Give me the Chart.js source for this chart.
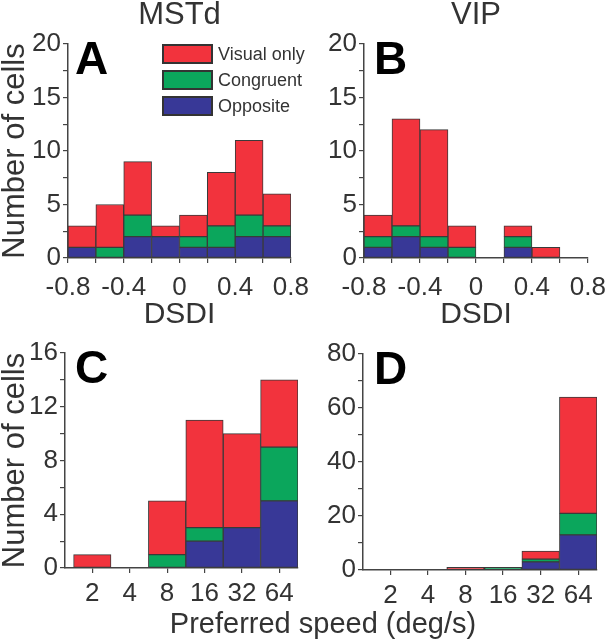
<!DOCTYPE html>
<html>
<head>
<meta charset="utf-8">
<script src="https://cdn.jsdelivr.net/npm/chart.js@4.4.0/dist/chart.umd.min.js"></script>
<style>
  body { margin: 0; background: #fff; }
  #wrap { position: relative; width: 612px; height: 639px; overflow: hidden; }
  canvas { position: absolute; }
  #speedLabel {
    position: absolute; left: 323px; top: 609px; transform: translateX(-50%);
    font-family: 'Liberation Sans', Arial, sans-serif; font-size: 29px; line-height: 29px;
    color: #333; white-space: nowrap;
  }
</style>
</head>
<body>
<div id="wrap">
  <canvas id="chartA" width="318" height="330" style="left:0;top:0"></canvas>
  <canvas id="chartB" width="315" height="330" style="left:300px;top:0"></canvas>
  <canvas id="chartC" width="318" height="319" style="left:0;top:320px"></canvas>
  <canvas id="chartD" width="317" height="319" style="left:300px;top:320px"></canvas>
  <div id="speedLabel">Preferred speed (deg/s)</div>
</div>
<script>
// DSDI bins (centres of 0.2 wide bins)
const dsdiBins = [-0.7, -0.5, -0.3, -0.1, 0.1, 0.3, 0.5, 0.7];
// preferred speed bins (deg/s)
const speeds = [2, 4, 8, 16, 32, 64];

// A: MSTd, DSDI
const mstdDsdiOpposite  = [1, 0, 2, 2, 1, 1, 2, 2];
const mstdDsdiCongruent = [0, 1, 2, 0, 1, 2, 2, 1];
const mstdDsdiVisual    = [2, 4, 5, 1, 2, 5, 7, 3];
// B: VIP, DSDI
const vipDsdiOpposite  = [1, 2, 1, 0, 0, 1, 0, 0];
const vipDsdiCongruent = [1, 1, 1, 1, 0, 1, 0, 0];
const vipDsdiVisual    = [2, 10, 10, 2, 0, 1, 1, 0];
// C: MSTd, preferred speed
const mstdSpeedOpposite  = [0, 0, 0, 2, 3, 5];
const mstdSpeedCongruent = [0, 0, 1, 1, 0, 4];
const mstdSpeedVisual    = [1, 0, 4, 8, 7, 5];
// D: VIP, preferred speed
const vipSpeedOpposite  = [0, 0, 0, 0, 3, 13];
const vipSpeedCongruent = [0, 0, 0, 1, 1, 8];
const vipSpeedVisual    = [0, 0, 1, 0, 3, 43];

const seriesNames = ['Opposite', 'Congruent', 'Visual only'];
const seriesColors = ['#383897', '#0ba65c', '#f2333d'];

Chart.defaults.font.family = "'Liberation Sans', Arial, sans-serif";
Chart.defaults.color = '#333';
Chart.defaults.animation = false;

const AXIS = '#444';

// big bold panel letter in the top left corner of the plot
const panelLetter = {
    id: 'panelLetter',
    afterDraw(chart, args, opts) {
        const { ctx, chartArea } = chart;
        ctx.save();
        ctx.font = "bold 46px 'Liberation Sans', Arial, sans-serif";
        ctx.fillStyle = '#000';
        ctx.textBaseline = 'alphabetic';
        ctx.fillText(opts.text, chartArea.left + opts.dx, chartArea.top + 30);
        ctx.restore();
    }
};

// legend with outlined boxes, drawn inside the plot of panel A
const boxLegend = {
    id: 'boxLegend',
    afterDraw(chart, args, opts) {
        if (!opts.show) return;
        const { ctx, chartArea } = chart;
        const sets = chart.data.datasets.slice().reverse();
        ctx.save();
        ctx.font = "18px 'Liberation Sans', Arial, sans-serif";
        ctx.textBaseline = 'middle';
        sets.forEach((ds, i) => {
            const x = chartArea.left + 95;
            const y = chartArea.top + 1 + i * 26;
            ctx.fillStyle = ds.backgroundColor;
            ctx.fillRect(x, y, 49, 18);
            ctx.strokeStyle = '#333';
            ctx.lineWidth = 2;
            ctx.strokeRect(x, y, 49, 18);
            ctx.fillStyle = '#333';
            ctx.fillText(ds.label, x + 55, y + 10);
        });
        ctx.restore();
    }
};

function makeDatasets(xs, lists) {
    return lists.map((vals, k) => ({
        label: seriesNames[k],
        data: xs.map((x, i) => ({ x: x, y: vals[i] })),
        backgroundColor: seriesColors[k],
        borderColor: '#3a3a3a',
        borderWidth: 1,
        borderSkipped: false,
        barPercentage: 1,
        categoryPercentage: 1
    }));
}

function yScale(max, step, every, width, title) {
    return {
        stacked: true,
        min: 0, max: max,
        afterFit: s => { s.width = width; },
        border: { color: AXIS, width: 1.5 },
        grid: { drawOnChartArea: false, tickLength: 5, color: AXIS, lineWidth: 1.2 },
        ticks: {
            stepSize: step, autoSkip: false, padding: 2,
            font: { size: 26 },
            callback: v => (v % every === 0 ? v : '')
        },
        title: {
            display: !!title, text: title,
            font: { size: 31, lineHeight: 1 }, padding: 0
        }
    };
}

function panel(id, cfg) {
    const xs = cfg.xs;
    return new Chart(document.getElementById(id), {
        type: 'bar',
        data: { datasets: makeDatasets(xs, cfg.series) },
        options: {
            responsive: false,
            layout: { padding: cfg.padding },
            scales: {
                x: cfg.x,
                y: cfg.y
            },
            plugins: {
                legend: { display: false },
                tooltip: { enabled: false },
                title: cfg.title ? {
                    display: true, text: cfg.title, fullSize: false,
                    font: { size: 31, weight: 'normal', lineHeight: 1 },
                    color: '#333',
                    padding: { top: 0, bottom: 13 }
                } : { display: false },
                panelLetter: { text: cfg.letter, dx: cfg.dx },
                boxLegend: { show: !!cfg.legend }
            }
        },
        plugins: [panelLetter, boxLegend]
    });
}

function dsdiX(height) {
    return {
        type: 'linear', stacked: true, offset: false,
        min: -0.8, max: 0.8,
        afterFit: s => { s.height = height; },
        border: { color: AXIS, width: 1.5 },
        grid: { drawOnChartArea: false, tickLength: 5, color: AXIS, lineWidth: 1.2, offset: false },
        ticks: {
            stepSize: 0.2, autoSkip: false, maxRotation: 0, padding: 9,
            font: { size: 26 },
            callback: v => {
                if (Math.abs(Math.round(v * 10)) % 4 !== 0) return '';
                return Math.abs(v) < 1e-9 ? '0' : v.toFixed(1);
            }
        },
        title: { display: true, text: 'DSDI', font: { size: 30, lineHeight: 1 }, padding: 0 }
    };
}

const speedPos = speeds.map(s => Math.log2(s));

function speedX(height) {
    return {
        type: 'linear', stacked: true, offset: false,
        min: 0.27, max: 6.5,
        afterFit: s => { s.height = height; },
        afterBuildTicks: s => { s.ticks = speedPos.map(v => ({ value: v })); },
        border: { color: AXIS, width: 1.5 },
        grid: { drawOnChartArea: false, tickLength: 5, color: AXIS, lineWidth: 1.2, offset: false },
        ticks: {
            autoSkip: false, maxRotation: 0, padding: 5,
            font: { size: 26 },
            callback: (v, i) => String(speeds[i])
        }
    };
}

panel('chartA', {
    xs: dsdiBins,
    series: [mstdDsdiOpposite, mstdDsdiCongruent, mstdDsdiVisual],
    padding: { left: 0, right: 20, top: 0, bottom: 0 },
    x: dsdiX(72),
    y: yScale(20, 2.5, 5, 68, 'Number of cells'),
    title: 'MSTd', letter: 'A', dx: 7, legend: true
});

panel('chartB', {
    xs: dsdiBins,
    series: [vipDsdiOpposite, vipDsdiCongruent, vipDsdiVisual],
    padding: { left: 0, right: 20, top: 0, bottom: 0 },
    x: dsdiX(72),
    y: yScale(20, 2.5, 5, 64, ''),
    title: 'VIP', letter: 'B', dx: 10
});

panel('chartC', {
    xs: speedPos,
    series: [mstdSpeedOpposite, mstdSpeedCongruent, mstdSpeedVisual],
    padding: { left: 0, right: 20, top: 33, bottom: 0 },
    x: speedX(71),
    y: yScale(16, 2, 4, 65, 'Number of cells'),
    letter: 'C', dx: 10
});

panel('chartD', {
    xs: speedPos,
    series: [vipSpeedOpposite, vipSpeedCongruent, vipSpeedVisual],
    padding: { left: 0, right: 20, top: 34, bottom: 0 },
    x: speedX(69),
    y: yScale(80, 10, 20, 63, ''),
    letter: 'D', dx: 11
});
</script>
</body>
</html>
